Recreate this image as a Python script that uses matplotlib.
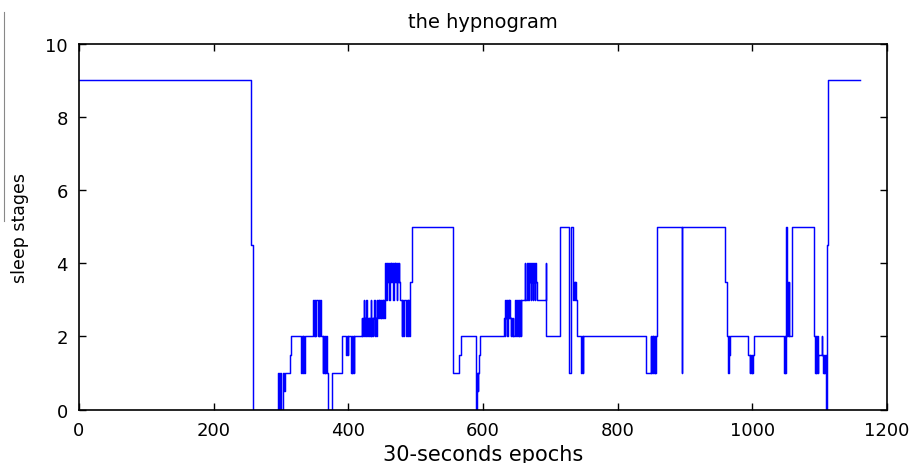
import numpy as np
import matplotlib
matplotlib.use('Agg')
import matplotlib.pyplot as plt
from matplotlib.lines import Line2D

# hypnogram as runs: epoch where a run starts, and the stage held until the next start
run_start = [0, 256, 258, 295, 297, 298, 300, 303, 305, 306, 313, 315,
             330, 331, 332, 333, 334, 335,
             348, 349, 350, 351, 352, 355, 356, 357, 358, 360,
             362, 363, 364, 365, 366, 367, 369, 370, 376, 390,
             397, 398, 399, 400, 404, 405, 406, 407, 408, 409,
             420, 421, 422, 423, 424, 425, 426, 427, 428, 429, 430, 431, 432, 433,
             434, 435, 436, 437, 438, 439, 440, 441,
             442, 443, 444, 445, 446, 447, 448, 449, 450, 451, 452, 453, 454,
             455, 456, 457, 458, 459, 460, 461, 462, 463, 464, 465, 466, 467, 468,
             469, 470, 471, 472, 473, 474, 475, 476, 477,
             479, 480, 481, 482, 486, 487, 488, 489, 490, 491, 492, 494,
             555, 565, 567, 590, 591, 592, 593, 594, 595,
             631, 632, 633, 634, 635, 636, 637, 638, 639, 640, 641, 642, 643, 644, 645,
             648, 649, 650, 652, 653, 654, 655, 656, 657,
             662, 663, 666, 667, 669, 670, 671, 672, 673, 674, 675, 676, 677, 678, 679, 680,
             693, 694, 715, 728, 730, 733, 734, 735, 736, 737, 738, 739,
             746, 747, 748, 749,
             842, 849, 850, 851, 852, 853, 854, 855, 856, 857, 858,
             895, 896, 959, 962, 964, 965, 966, 967,
             994, 996, 997, 998, 999, 1000, 1001, 1002,
             1047, 1048, 1049, 1050, 1051, 1052, 1053, 1054, 1055, 1059,
             1092, 1093, 1094, 1095, 1096, 1097, 1098, 1103, 1104, 1105, 1106, 1107,
             1108, 1109, 1110, 1111, 1113, 1160]
run_stage = [9, 4.5, 0, 1, 0, 1, 0, 1, 0.5, 1, 1.5, 2,
             1, 2, 1, 2, 1, 2,
             3, 2, 3, 2, 3, 2, 3, 2, 3, 2,
             1, 2, 1, 2, 1, 2, 1, 0, 1, 2,
             1.5, 2, 1.5, 2, 1, 2, 1, 2, 1, 2,
             2.5, 2, 2.5, 3, 2, 2.5, 2, 3, 2, 2.5, 2, 2.5, 2, 3,
             2, 2.5, 2, 2.5, 3, 2, 2.5, 2,
             3, 2.5, 3, 2.5, 3, 2.5, 3, 2.5, 3, 2.5, 3, 2.5, 3,
             4, 3, 4, 3.5, 4, 3.5, 3, 4, 3.5, 4, 3.5, 4, 3, 4,
             3.5, 4, 3.5, 3, 4, 3.5, 4, 3.5, 3,
             2, 3, 2, 3, 2, 3, 2, 3, 2, 3, 3.5, 5,
             1, 1.5, 2, 0, 1, 0.5, 1, 1.5, 2,
             2.5, 2, 3, 2.5, 3, 2, 3, 2.5, 3, 2.5, 2, 2.5, 2, 2.5, 2,
             3, 2, 3, 2, 3, 2, 3, 2, 3,
             4, 3, 4, 3, 4, 3.5, 3, 4, 3.5, 3, 4, 3.5, 3, 4, 3.5, 3,
             4, 2, 5, 1, 5, 3.5, 3, 3.5, 3, 3.5, 3, 2,
             1, 2, 1, 2,
             1, 2, 1, 2, 1, 2, 1, 2, 1, 2, 5,
             1, 5, 3.5, 2, 1, 2, 1.5, 2,
             1.5, 1, 1.5, 1, 1.5, 1, 1.5, 2,
             1, 2, 1, 5, 2, 3.5, 2, 3.5, 2, 5,
             2, 1, 2, 1, 2, 1, 1.5, 2, 1.5, 1, 1.5, 1,
             1.5, 1, 0, 4.5, 9, 9]

x_ticks = [0, 200, 400, 600, 800, 1000, 1200]
y_ticks = [0, 2, 4, 6, 8, 10]

fig = plt.figure(figsize=(9.13, 4.64), dpi=100)
ax = fig.add_axes([0.0865, 0.1149, 0.885, 0.789])

ax.step(run_start, run_stage, where='post', color='#0000ff', lw=1.05)

ax.set_xlim(0, 1200)
ax.set_ylim(0, 10)
ax.set_xticks(x_ticks)
ax.set_yticks(y_ticks)
ax.tick_params(direction='in', length=5, width=1, top=True, right=True,
               labelsize=13, pad=8)
for s in ax.spines.values():
    s.set_linewidth(1.2)

ax.set_title('the hypnogram', fontsize=14, pad=12)
ax.set_xlabel('30-seconds epochs', fontsize=15, labelpad=4)
ax.set_ylabel('sleep stages', fontsize=12.5, labelpad=12)

# stray grey rule at the left edge of the source picture
fig.add_artist(Line2D([4 / 913, 4 / 913], [1 - 13 / 464, 1 - 222 / 464],
                      color='#888888', lw=0.8))

fig.savefig('out.png', dpi=100)
